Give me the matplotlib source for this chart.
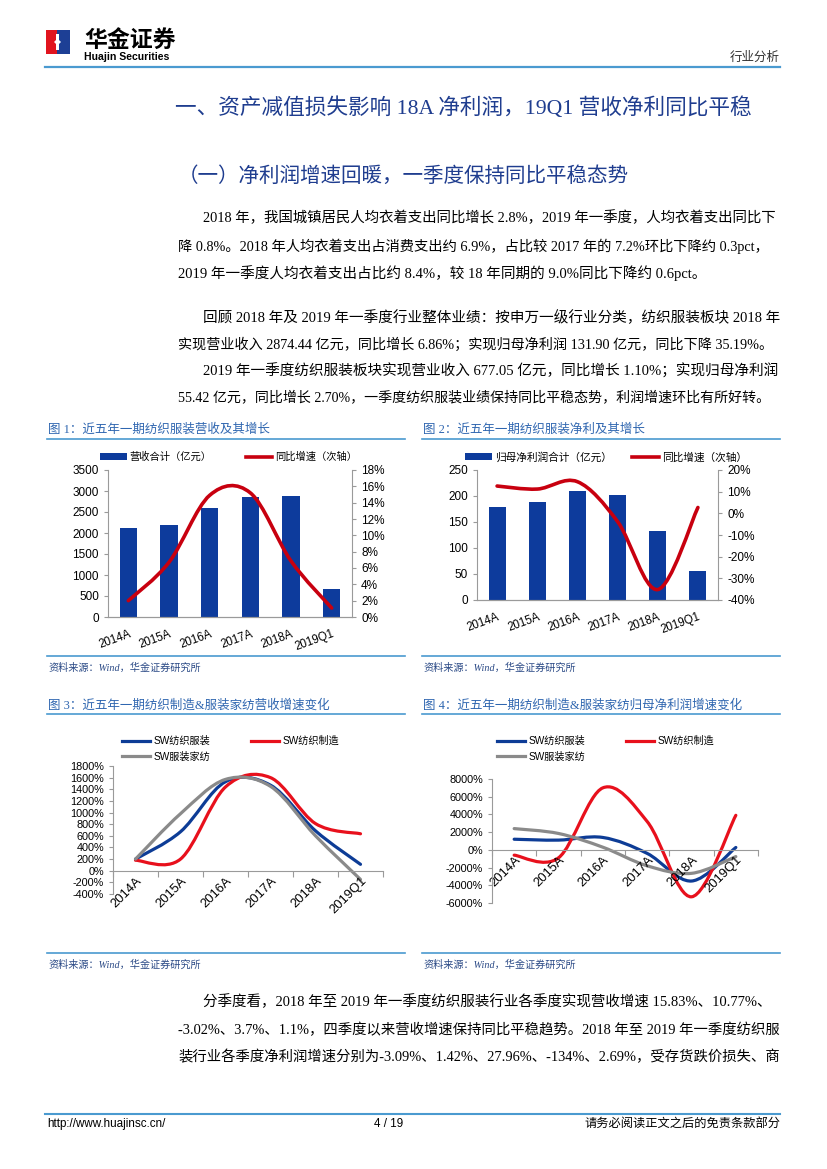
import matplotlib
matplotlib.use("Agg")
import matplotlib.pyplot as plt
import numpy as np
from matplotlib.path import Path
from matplotlib.patches import PathPatch, Rectangle, Polygon
from matplotlib.lines import Line2D

W, H = 827, 1169
CJK = "Noto Sans CJK SC"
SERIF = ["Liberation Serif", CJK]
SANS = ["Liberation Sans", CJK]
plt.rcParams["font.family"] = SANS

# ---- data ----
categories = ["2014A", "2015A", "2016A", "2017A", "2018A", "2019Q1"]

revenue = [2130, 2185, 2585, 2860, 2874.44, 677.05]          # 亿元
revenue_growth = [2.0, 6.7, 14.9, 15.2, 6.86, 1.10]           # %

profit = [178.8, 188.5, 209, 202, 131.90, 55.42]              # 亿元
profit_growth = [12.6, 11.2, 14.6, -3.8, -35.19, 2.70]        # %

rev_textile_apparel = [200, 670, 1530, 1470, 686, 110]        # SW纺织服装
rev_textile_mfg = [180, 200, 1440, 1600, 810, 635]            # SW纺织制造
rev_apparel_home = [200, 980, 1570, 1450, 600, -150]          # SW服装家纺

np_textile_apparel = [1200, 1100, 1400, -400, -3519, 270]
np_textile_mfg = [-600, -900, 7000, 3200, -5300, 3900]
np_apparel_home = [2400, 1850, 300, -1800, -2650, -760]

title_main = "一、资产减值损失影响 18A 净利润，19Q1 营收净利同比平稳"
title_sub = "（一）净利润增速回暖，一季度保持同比平稳态势"
para1 = [
    "2018 年，我国城镇居民人均衣着支出同比增长 2.8%，2019 年一季度，人均衣着支出同比下",
    "降 0.8%。2018 年人均衣着支出占消费支出约 6.9%，占比较 2017 年的 7.2%环比下降约 0.3pct，",
    "2019 年一季度人均衣着支出占比约 8.4%，较 18 年同期的 9.0%同比下降约 0.6pct。",
]
para2 = [
    "回顾 2018 年及 2019 年一季度行业整体业绩：按申万一级行业分类，纺织服装板块 2018 年",
    "实现营业收入 2874.44 亿元，同比增长 6.86%；实现归母净利润 131.90 亿元，同比下降 35.19%。",
]
para3 = [
    "2019 年一季度纺织服装板块实现营业收入 677.05 亿元，同比增长 1.10%；实现归母净利润",
    "55.42 亿元，同比增长 2.70%，一季度纺织服装业绩保持同比平稳态势，利润增速环比有所好转。",
]
para4 = [
    "分季度看，2018 年至 2019 年一季度纺织服装行业各季度实现营收增速 15.83%、10.77%、",
    "-3.02%、3.7%、1.1%，四季度以来营收增速保持同比平稳趋势。2018 年至 2019 年一季度纺织服",
    "装行业各季度净利润增速分别为-3.09%、1.42%、27.96%、-134%、2.69%，受存货跌价损失、商",
]
fig_titles = [
    "图 1：近五年一期纺织服装营收及其增长",
    "图 2：近五年一期纺织服装净利及其增长",
    "图 3：近五年一期纺织制造&服装家纺营收增速变化",
    "图 4：近五年一期纺织制造&服装家纺归母净利润增速变化",
]
source = "资料来源：Wind，华金证券研究所"
series_names = ["SW纺织服装", "SW纺织制造", "SW服装家纺"]

# ---- colours ----
BAR_BLUE = "#0d3b9c"
LINE_RED = "#c8000f"
BLUE = "#0d3c96"
RED = "#e8101c"
GREY = "#8a8a8a"
AXIS = "#9a9a9a"
RULE = "#4a9ad0"
TITLE_BLUE = "#1f3d8f"
CAP_BLUE = "#2f66b0"
SRC = "#2b4a86"

fig = plt.figure(figsize=(W / 100, H / 100), dpi=100)
renderer = fig.canvas.get_renderer()


def put(x, y, s, **kw):
    kw.setdefault("va", "center")
    return fig.text(x / W, 1 - y / H, s, **kw)


def rule(x0, x1, y, color=RULE, lw=1.2):
    fig.add_artist(Line2D([x0 / W, x1 / W], [1 - y / H] * 2,
                          transform=fig.transFigure, color=color, lw=lw))


def axes_at(l, t, r, b):
    return fig.add_axes([l / W, 1 - b / H, (r - l) / W, (b - t) / H])


def smooth_path(xs, ys):
    # Excel-style smoothed line: cubic Bezier through the data points
    pts = list(zip(xs, ys))
    n = len(pts)
    verts, codes = [pts[0]], [Path.MOVETO]
    for i in range(n - 1):
        p0, p1 = pts[max(i - 1, 0)], pts[i]
        p2, p3 = pts[i + 1], pts[min(i + 2, n - 1)]
        c1 = (p1[0] + (p2[0] - p0[0]) / 6, p1[1] + (p2[1] - p0[1]) / 6)
        c2 = (p2[0] - (p3[0] - p1[0]) / 6, p2[1] - (p3[1] - p1[1]) / 6)
        verts += [c1, c2, p2]
        codes += [Path.CURVE4] * 3
    return Path(verts, codes)


def smooth_line(ax, xs, ys, color, lw):
    ax.add_patch(PathPatch(smooth_path(xs, ys), facecolor="none",
                           edgecolor=color, lw=lw, capstyle="round",
                           joinstyle="round"))
    return Line2D([], [], color=color, lw=lw)


def style(ax):
    for s in ax.spines.values():
        s.set_color(AXIS)
        s.set_linewidth(0.8)
    ax.spines["top"].set_visible(False)
    ax.tick_params(colors="black", color=AXIS, length=3, width=0.8)


# ---- header ----
fig.add_artist(Rectangle((46 / W, 1 - 54 / H), 11 / W, 24 / H,
                         transform=fig.transFigure, color="#e1141e", lw=0))
fig.add_artist(Rectangle((57 / W, 1 - 54 / H), 13 / W, 24 / H,
                         transform=fig.transFigure, color="#1d3f95", lw=0))
notch = [(56, 34), (59, 34), (59, 40), (61, 42), (59, 44), (59, 50),
         (56, 50), (56, 44), (54, 42), (56, 40)]
fig.add_artist(Polygon([(a / W, 1 - b / H) for a, b in notch],
                       transform=fig.transFigure, color="white", lw=0))
put(84, 41, "华金证券", fontsize=16.5, fontweight="bold", family=CJK)
put(84, 57, "Huajin Securities", fontsize=7.6, fontweight="bold",
    family="Liberation Sans")
put(780, 57, "行业分析", fontsize=9, ha="right", family=CJK, color="#333333")
rule(45, 780, 67, lw=1.6)

# ---- body text ----
put(175, 108, title_main, fontsize=15.6, family=SERIF, color=TITLE_BLUE)
put(178, 177, title_sub, fontsize=14.8, family=SERIF, color=TITLE_BLUE)


def paragraph(lines, ys, last_full=True):
    # justified body lines: each full line is sized to reach the right margin
    for i, (line, y) in enumerate(zip(lines, ys)):
        x0 = 203 if i == 0 else 178
        t = put(x0, y, line, fontsize=10.5, family=SERIF)
        if i == len(lines) - 1 and not last_full:
            continue
        right = 773 if line[-1] in "，、；。" else 780
        w = t.get_window_extent(renderer).width
        t.set_fontsize(10.5 * (right - x0) / w)


paragraph(para1, [218, 246, 273], last_full=False)
paragraph(para2, [318, 345])
paragraph(para3, [371, 397])
paragraph(para4, [1002, 1030, 1057])

# ---- captions, rules, sources ----
for i, (cx, cy, sy) in enumerate([(47, 430, 656), (422, 430, 656),
                                  (47, 705, 953), (422, 705, 953)]):
    x1 = cx + 358
    put(cx + 1, cy, fig_titles[i], fontsize=9, family=SERIF, color=CAP_BLUE)
    rule(cx, x1, cy + 9)
    rule(cx, x1, sy)
    put(cx + 1, sy + 12, source, fontsize=7.3, family=SERIF, style="italic",
        color=SRC)

x = np.arange(len(categories))

# ---- chart 1 ----
ax1 = axes_at(108, 470, 352, 617)
b1 = ax1.bar(x, revenue, width=0.42, color=BAR_BLUE)
ax1.set_xlim(-0.5, 5.5)
ax1.set_ylim(0, 3500)
ax1.set_yticks(range(0, 3501, 500))
ax1.set_xticks(x, categories, rotation=20, ha="right", va="top",
               rotation_mode="anchor", fontsize=8.3)
style(ax1)
ax1.spines["right"].set_visible(False)
ax1.tick_params(axis="x", length=0, pad=8)
ax1.tick_params(axis="y", labelsize=8.5)
ax1r = ax1.twinx()
ax1r.set_ylim(0, 18)
ax1r.set_yticks(range(0, 19, 2), [f"{t}%" for t in range(0, 19, 2)])
style(ax1r)
ax1r.spines["left"].set_visible(False)
ax1r.tick_params(axis="y", labelsize=8.5)
h1 = smooth_line(ax1r, x, revenue_growth, LINE_RED, 2.6)
ax1.legend([b1, h1], ["营收合计（亿元）", "同比增速（次轴）"], ncol=2,
           loc="center left", bbox_to_anchor=(100 / W, 1 - 457 / H),
           bbox_transform=fig.transFigure, frameon=False, fontsize=7.4,
           borderpad=0, borderaxespad=0, handlelength=2.6,
           handleheight=0.6, handletextpad=0.3, columnspacing=3.3)

# ---- chart 2 ----
ax2 = axes_at(477, 470, 718, 600)
b2 = ax2.bar(x, profit, width=0.42, color=BAR_BLUE)
ax2.set_xlim(-0.5, 5.5)
ax2.set_ylim(0, 250)
ax2.set_yticks(range(0, 251, 50))
ax2.set_xticks(x, categories, rotation=20, ha="right", va="top",
               rotation_mode="anchor", fontsize=8.3)
style(ax2)
ax2.spines["right"].set_visible(False)
ax2.tick_params(axis="x", length=0, pad=8)
ax2.tick_params(axis="y", labelsize=8.5)
ax2r = ax2.twinx()
ax2r.set_ylim(-40, 20)
ax2r.set_yticks(range(-40, 21, 10), [f"{t}%" for t in range(-40, 21, 10)])
style(ax2r)
ax2r.spines["left"].set_visible(False)
ax2r.tick_params(axis="y", labelsize=8.5)
h2 = smooth_line(ax2r, x, profit_growth, LINE_RED, 2.6)
ax2.legend([b2, h2], ["归母净利润合计（亿元）", "同比增速（次轴）"], ncol=2,
           loc="center left", bbox_to_anchor=(465 / W, 1 - 457 / H),
           bbox_transform=fig.transFigure, frameon=False, fontsize=7.7,
           borderpad=0, borderaxespad=0, handlelength=2.5,
           handleheight=0.6, handletextpad=0.3, columnspacing=1.9)


# ---- charts 3 and 4 ----
def growth_chart(rect, series, ylim, step, legend_x):
    ax = axes_at(*rect)
    handles = [smooth_line(ax, x, s, c, 2.3)
               for s, c in zip(series, [BLUE, RED, GREY])]
    ax.set_xlim(-0.5, 5.5)
    ax.set_ylim(*ylim)
    ticks = range(ylim[0], ylim[1] + 1, step)
    ax.set_yticks(ticks, [f"{t}%" for t in ticks])
    style(ax)
    ax.spines["right"].set_visible(False)
    ax.spines["bottom"].set_position(("data", 0))
    ax.set_xticks(x, categories, rotation=45, ha="right", va="top",
                  rotation_mode="anchor", fontsize=9.4)
    ax.set_xticks(np.arange(-0.5, 6, 1), minor=True)
    ax.tick_params(axis="x", which="major", length=0, pad=3)
    ax.tick_params(axis="x", which="minor", length=4, color=AXIS, width=0.8)
    ax.tick_params(axis="y", labelsize=7.8)
    order = [0, 2, 1]
    ax.legend([handles[i] for i in order], [series_names[i] for i in order],
              ncol=2, loc="upper left",
              bbox_to_anchor=(legend_x / W, 1 - 736 / H),
              bbox_transform=fig.transFigure, frameon=False, fontsize=7.3,
              borderpad=0, borderaxespad=0, handlelength=2.8,
              handletextpad=0.3, columnspacing=4.0, labelspacing=0.55)
    return ax


growth_chart((113, 766, 383, 894),
             [rev_textile_apparel, rev_textile_mfg, rev_apparel_home],
             (-400, 1800), 200, 122)
growth_chart((492, 779, 758, 903),
             [np_textile_apparel, np_textile_mfg, np_apparel_home],
             (-6000, 8000), 2000, 497)

# ---- footer ----
rule(45, 780, 1114, lw=1.5)
put(47, 1124, "http://www.huajinsc.cn/", fontsize=8.4, family="Liberation Sans")
put(389, 1124, "4 / 19", fontsize=8.4, ha="center", family="Liberation Sans")
put(780, 1124, "请务必阅读正文之后的免责条款部分", fontsize=8.8, ha="right",
    family=SERIF)

fig.savefig("out.png", dpi=100)
